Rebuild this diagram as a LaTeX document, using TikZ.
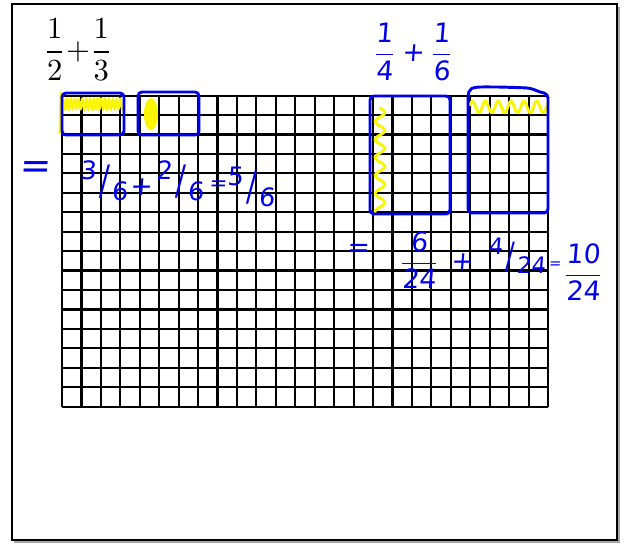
\documentclass[tikz,border=0pt]{standalone}
\usepackage{fontspec}
\newfontfamily\handfont[FakeSlant=0.08]{DejaVu Sans}
\usetikzlibrary{positioning}
\definecolor{PenClr}{rgb}{0,0,0.92}
\definecolor{HiliteClr}{rgb}{0.98,0.96,0}
\newcommand\slfrac[2]{\raisebox{.4em}{#1}\kern.12em\raisebox{-.2em}{\scalebox{1.1}[1.6]{/}}\kern.12em\raisebox{-.45em}{#2}}
\newcommand\stfrac[2]{$\displaystyle\frac{\mbox{#1}}{\mbox{#2}}$}

\begin{document}
\begin{tikzpicture}[x=0.75pt,y=-0.75pt,
  gridline/.style={line width=1.6pt,black},
  penline/.style={line width=2.2pt,PenClr,rounded corners=3pt,line join=round},
  hiline/.style={line width=2.2pt,HiliteClr,line join=round,line cap=round},
  ink/.style={text=PenClr,inner sep=0pt,font=\handfont\fontsize{20}{24}\selectfont},
  slink/.style={ink,font=\handfont\fontsize{19}{22}\selectfont},
  bigeq/.style={ink,font=\handfont\fontsize{28}{30}\selectfont}]
\useasboundingbox (0,0) rectangle (624,543);

% page frame
\draw[line width=2pt,gray!70] (619,7) -- (619,542) -- (14,542);
\draw[line width=0.9pt] (12,4) rectangle (617,540);

% grid 25 x 16
\foreach \i in {0,...,25}
  \draw[gridline] ({62+19.44*\i},95.6) -- ({62+19.44*\i},406.6);
\foreach \j in {0,...,16}
  \draw[gridline] (62,{95.6+19.44*\j}) -- (548,{95.6+19.44*\j});

% printed sum
\node[inner sep=0pt] (sumA) at (78,50)
  {\scalebox{2.3}{$\displaystyle\frac{1}{2}{+}\frac{1}{3}$}};

% yellow shading
\draw[hiline] (61,93) -- (60,133);
\draw[hiline,line width=1.6pt] plot[domain=64:122,samples=90] (\x,{104+6*sin(\x*95)});
\fill[HiliteClr] (151,114) ellipse (7 and 16);
\draw[hiline] plot[domain=108:212,samples=60] ({380+5*sin(\x*20)},\x);
\draw[hiline] plot[domain=470:548,samples=60] (\x,{107+6*sin(\x*28)});

% blue boxes
\draw[penline] (62,93) rectangle (124,135);
\draw[penline] (138,92) rectangle (199,135);
\draw[penline] (370,96) rectangle (450,214);
\draw[penline] (468,213) -- (468,96) .. controls (470,86) and (480,87) .. (500,87)
  -- (530,88) .. controls (540,92) .. (548,94) -- (548,213) -- cycle;

% handwritten sums
\node[ink] (sumB) at (413,52) {\stfrac{1}{4}\;+\;\stfrac{1}{6}};
\node[bigeq] (eqA) at (35,170) {=};
\node[slink] (sixA) at (104,181) {\slfrac{3}{6}};
\node[ink] (plusA) at (141,187) {+};
\node[slink] (sixB) at (180,181) {\slfrac{2}{6}};
\node[ink,font=\handfont\fontsize{16}{18}\selectfont] (eqD) at (218,186) {=};
\node[slink] (sixC) at (251,187) {\slfrac{5}{6}};
\node[ink] (eqB) at (358,250) {=};
\node[ink] (partA) at (419,260) {\stfrac{6}{24}};
\node[ink] (plusB) at (462,262) {+};
\node[slink,font=\handfont\fontsize{17}{19}\selectfont] (partB) at (517,256) {\slfrac{4}{24}};
\node[ink,font=\handfont\fontsize{11}{13}\selectfont] (eqC) at (555,265) {=};
\node[ink] (total) at (583,272) {\stfrac{10}{24}};
\end{tikzpicture}
\end{document}
